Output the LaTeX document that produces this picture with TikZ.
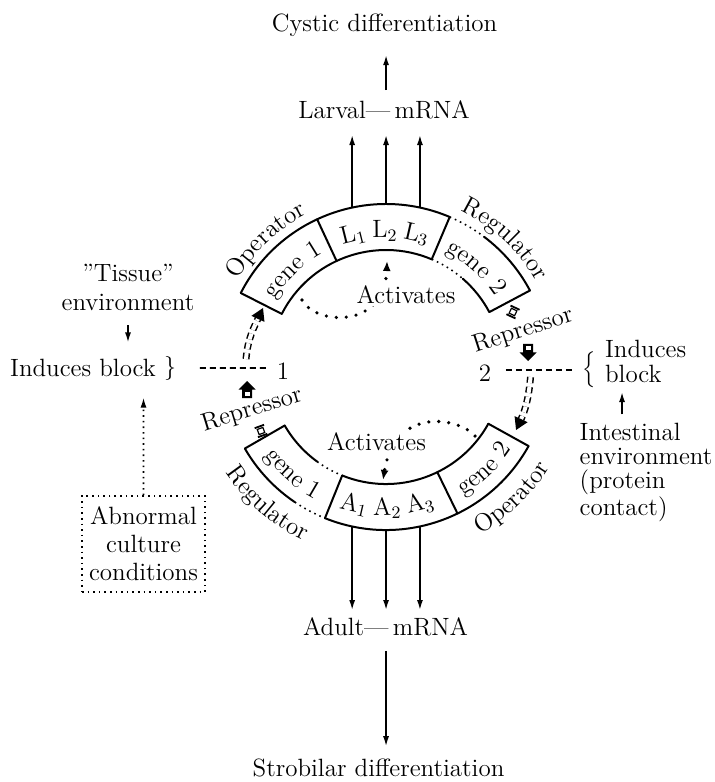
\documentclass[tikz,border=0pt]{standalone}
\usetikzlibrary{arrows.meta,decorations.text}

\tikzset{
  ring/.style={line width=1pt, line cap=round},
  ringdot/.style={line width=0.8pt, dotted},
  arr/.style={line width=0.8pt, -{Latex[length=5pt,width=3pt]}},
  dotarr/.style={line width=0.8pt, dotted, -{Latex[length=5pt,width=3pt]}},
  bigdots/.style={line width=1.8pt, line cap=round, dash pattern=on 0pt off 5pt,
    -{Latex[length=5pt,width=4pt]}},
  dashline/.style={line width=0.8pt, dash pattern=on 3pt off 2pt},
  ddash/.style={line width=0.75pt, dash pattern=on 3pt off 2pt, double distance=2pt,
    -{Triangle[length=6pt,width=7pt]}},
  curvtext/.style={decorate, decoration={text along path, text={#1}, text align=center}},
}

\begin{document}
\fontsize{12.5}{14.5}\selectfont
\begin{tikzpicture}[scale=0.1757]
\useasboundingbox (0,0) rectangle (71.4,-78.2);
\coordinate (c) at (38.6,-36.7);
% larval ring
\draw [ring] (c) ++(153:16.3) arc (153:67:16.3);
\draw [ringdot] (c) ++(67:16.3) arc (67:53:16.3);
\draw [ring] (c) ++(53:16.3) arc (53:28:16.3);
\draw [ring] (c) ++(153:11.7) arc (153:67:11.7);
\draw [ringdot] (c) ++(67:11.7) arc (67:49:11.7);
\draw [ring] (c) ++(49:11.7) arc (49:28:11.7);
% adult ring
\draw [ring] (c) ++(-150:16.3) arc (-150:-124:16.3);
\draw [ringdot] (c) ++(-124:16.3) arc (-124:-112:16.3);
\draw [ring] (c) ++(-112:16.3) arc (-112:-29:16.3);
\draw [ring] (c) ++(-150:11.7) arc (-150:-126:11.7);
\draw [ringdot] (c) ++(-126:11.7) arc (-126:-112:11.7);
\draw [ring] (c) ++(-112:11.7) arc (-112:-29:11.7);
\foreach \a in {153,115,67,28,-150,-112,-64,-29}
  \draw [ring] (c) ++(\a:11.7) -- ++(\a:4.6);

% texts on the rings
\path [curvtext={gene 1}] (c) ++(164:13.0) arc (164:104:13.0);
\path [curvtext={gene 2}] (c) ++(78:13.0) arc (78:18:13.0);
\path [curvtext={Operator}] (c) ++(166:17.2) arc (166:101:17.2);
\path [curvtext={Regulator}] (c) ++(80:17.3) arc (80:14:17.3);
\path [curvtext={gene 1}] (c) ++(-161:15.0) arc (-161:-101:15.0);
\path [curvtext={gene 2}] (c) ++(-76:15.0) arc (-76:-16:15.0);
\path [curvtext={Regulator}] (c) ++(-164:19.2) arc (-164:-98:19.2);
\path [curvtext={Operator}] (c) ++(-79:19.2) arc (-79:-13:19.2);
\node [rotate=14] (l1) at ([shift={(104:13.6)}]c) {L\textsubscript{1}};
\node [rotate=0.5] (l2) at ([shift={(90.5:13.6)}]c) {L\textsubscript{2}};
\node [rotate=-13] (l3) at ([shift={(77:13.6)}]c) {L\textsubscript{3}};
\node [rotate=-13] (a1) at ([shift={(-103:14.1)}]c) {A\textsubscript{1}};
\node [rotate=0.5] (a2) at ([shift={(-89.5:14.1)}]c) {A\textsubscript{2}};
\node [rotate=14] (a3) at ([shift={(-76:14.1)}]c) {A\textsubscript{3}};

% mRNA and differentiation
\node (cystic) at (38.45,-2.5) {Cystic differentiation};
\node (larval) at (38.4,-11.0) {Larval---\,mRNA};
\node (adult) at (38.55,-62.7) {Adult---\,mRNA};
\node (strob) at (37.85,-76.8) {Strobilar differentiation};
\coordinate (ltip) at (38.6,-13.5);
\coordinate (atip) at (38.6,-61.0);
\foreach \a/\n in {102/1,90/2,78/3} {
  \coordinate (lo\n) at ([shift={(\a:16.3)}]c);
  \draw [arr] (lo\n) -- (lo\n |- ltip);
  \coordinate (ao\n) at ([shift={(-\a:16.3)}]c);
  \draw [arr] (ao\n) -- (ao\n |- atip);
}
\draw [arr, shorten <=1pt, shorten >=5pt] (larval.north -| lo2) -- (lo2 |- cystic.south);
\draw [arr, shorten <=3pt, shorten >=2pt] (adult.south -| ao2) -- (ao2 |- strob.north);

% activation
\coordinate (acs) at (30.2,-30.0);
\coordinate (ace) at (38.7,-26.1);
\draw [bigdots] (acs) .. controls (31.5,-32.5) and (38.5,-33) .. (ace);
\node [fill=white, inner sep=1pt] (acttop) at (40.6,-29.5) {Activates};
\coordinate (bcs) at (47.5,-43.6);
\coordinate (bce) at (38.3,-48.0);
\draw [bigdots] (bcs) .. controls (46,-41.8) and (39.5,-40.5) .. (bce);
\node [fill=white, inner sep=1pt] (actbot) at (37.65,-44.2) {Activates};

% block 1
\node [align=center] (tissue) at (12.8,-28.7) {''Tissue''\\environment};
\node (induces) at (8.3,-36.8) {Induces block};
\node (lbr) at (17.0,-36.8) {$\}$};
\node (one) at (28.3,-37.1) {1};
\draw [dashline, shorten <=7.5pt, shorten >=1pt] (lbr) -- (lbr -| one.west);
\draw [arr, shorten <=3pt, shorten >=4pt] (tissue.south) -- (tissue.south |- induces.north);
\node [draw, dotted, line width=0.8pt, align=center, minimum width=61.5pt, minimum height=48pt,
  inner sep=1pt, font=\fontsize{12.5}{14}\selectfont]
  (abn) at (14.35,-54.4) {Abnormal\\culture\\conditions};
\draw [dotarr, shorten >=6pt] (abn) -- (abn |- induces.south);
\coordinate (ds1) at (24.6,-35.9);
\coordinate (de1) at (26.3,-30.8);
\draw [ddash] (ds1) to[out=85,in=-115] (de1);
% repressor 1
\fill (24.2,-39.8) -- (24.2,-38.95) -- (23.85,-38.95) -- (24.7,-38.1) -- (25.55,-38.95)
  -- (25.2,-38.95) -- (25.2,-39.8) -- cycle;
\fill [white] (24.45,-39.6) rectangle (24.95,-39.15);
\draw [line width=0.6pt, rotate around={20:(26.1,-43.1)}] (25.8,-43.37) rectangle (26.4,-42.83);
\draw [line width=0.9pt, rotate around={20:(26.1,-43.1)}]
  (25.6,-42.62) -- (26.6,-42.62) (25.6,-43.58) -- (26.6,-43.58);
\node [rotate=17] (repl) at (25.2,-41.0) {Repressor};

% block 2
\node (two) at (48.5,-37.3) {2};
\node [font=\fontsize{10}{11}\selectfont] (rbr) at (58.9,-37.0) {$\Big\{$};
\draw [dashline, shorten <=3pt] (rbr.west -| two.east) -- (rbr.west);
\node [align=left, anchor=west] (indr) at (59.64,-36.1) {Induces\\[-2pt]block};
\node [align=left, anchor=west, font=\fontsize{12.5}{12}\selectfont]
  (intest) at (57.1,-47.25) {Intestinal\\environment\\(protein\\contact)};
\coordinate (ib) at (62.2,-39.2);
\draw [arr] (intest.north -| ib) -- (ib);
\coordinate (ds2) at (53.05,-37.7);
\coordinate (de2) at (51.6,-43.0);
\draw [ddash] (ds2) to[out=-95,in=65] (de2);
% repressor 2
\fill (52.3,-34.4) -- (52.3,-35.25) -- (51.95,-35.25) -- (52.8,-36.1) -- (53.65,-35.25)
  -- (53.3,-35.25) -- (53.3,-34.4) -- cycle;
\fill [white] (52.55,-34.6) rectangle (53.05,-35.05);
\draw [line width=0.6pt, rotate around={-25:(51.3,-31.2)}] (51.0,-31.47) rectangle (51.6,-30.93);
\draw [line width=0.9pt, rotate around={-25:(51.3,-31.2)}]
  (50.8,-30.72) -- (51.8,-30.72) (50.8,-31.68) -- (51.8,-31.68);
\node [rotate=18] (repr) at (52.3,-33.1) {Repressor};
\end{tikzpicture}
\end{document}
